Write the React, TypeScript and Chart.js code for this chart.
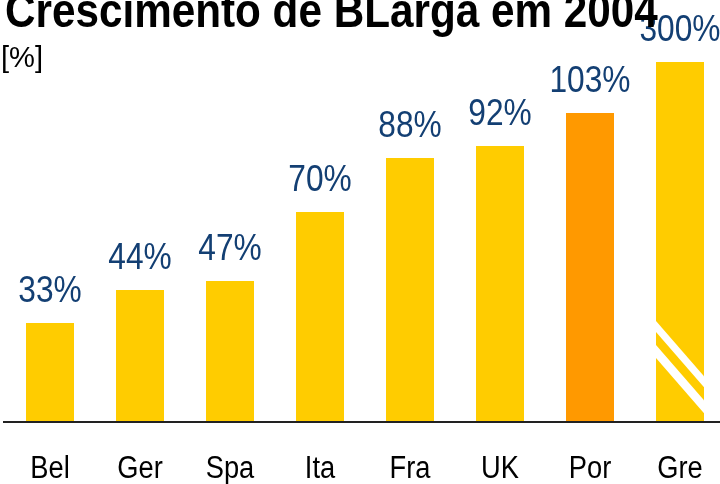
import React, { useEffect, useRef } from "react";
import { Chart, registerables } from "chart.js";

Chart.register(...registerables);

const titleText = "Crescimento de BLarga em 2004";
const unitLabel = "[%]";
const countries = ["Bel", "Ger", "Spa", "Ita", "Fra", "UK", "Por", "Gre"];
const growth = [33, 44, 47, 70, 88, 92, 103, 300];
const valueLabels = ["33%", "44%", "47%", "70%", "88%", "92%", "103%", "300%"];
const axisCap = 120; // broken axis: bars above this are cut
const highlightCountry = "Por";
const brokenCountry = "Gre";

const YELLOW = "#FFCC00";
const ORANGE = "#FF9900";
const NAVY = "#133F73";
const SQUEEZE = 0.88;
const FONT = '"Liberation Sans", Arial, Helvetica, sans-serif';

function squeezedText(ctx: CanvasRenderingContext2D, text: string, x: number, y: number, font: string, color: string, align: CanvasTextAlign, sx: number) {
  ctx.save();
  ctx.font = font;
  ctx.fillStyle = color;
  ctx.textAlign = align;
  ctx.textBaseline = "alphabetic";
  ctx.translate(x, y);
  ctx.scale(sx, 1);
  ctx.fillText(text, 0, 0);
  ctx.restore();
}

const overlayPlugin = {
  id: "overlay",
  afterDatasetsDraw(chart: any) {
    const ctx: CanvasRenderingContext2D = chart.ctx;
    const meta = chart.getDatasetMeta(0);
    const area = chart.chartArea;
    const xScale = chart.scales.x;

    // break marks on the cut bar
    const bi = countries.indexOf(brokenCountry);
    const bar = meta.data[bi];
    if (bar) {
      const props = bar.getProps(["x", "y", "base", "width"], true);
      const L = props.x - props.width / 2;
      const R = props.x + props.width / 2;
      const B = props.base;
      const w = R - L;
      const slope = 1.15;
      ctx.save();
      ctx.beginPath();
      ctx.rect(L, props.y, w, B - props.y);
      ctx.clip();
      ctx.fillStyle = "#FFFFFF";
      const stripes = [
        { top: 101, t: 11 },
        { top: 77, t: 13 },
      ];
      stripes.forEach((s) => {
        const y0 = B - s.top;
        ctx.beginPath();
        ctx.moveTo(L - 1, y0 - slope);
        ctx.lineTo(R + 1, y0 + slope * (w + 1));
        ctx.lineTo(R + 1, y0 + slope * (w + 1) + s.t);
        ctx.lineTo(L - 1, y0 - slope + s.t);
        ctx.closePath();
        ctx.fill();
      });
      ctx.restore();
    }

    // axis line
    ctx.save();
    ctx.fillStyle = "#222222";
    ctx.fillRect(3, area.bottom - 1, chart.width, 2);
    ctx.restore();

    // value labels
    meta.data.forEach((el: any, i: number) => {
      const p = el.getProps(["x", "y"], true);
      squeezedText(ctx, valueLabels[i], p.x, p.y - 21, `36px ${FONT}`, NAVY, "center", SQUEEZE);
    });

    // category labels
    countries.forEach((c, i) => {
      const x = xScale.getPixelForValue(i);
      squeezedText(ctx, c, x, 478, `31px ${FONT}`, "#000000", "center", SQUEEZE);
    });

    // title and unit
    squeezedText(ctx, titleText, 5, 27, `bold 48px ${FONT}`, "#000000", "left", SQUEEZE);
    squeezedText(ctx, unitLabel, 1, 67, `30px ${FONT}`, "#000000", "left", 0.97);
  },
};

export default function App() {
  const ref = useRef<HTMLCanvasElement | null>(null);

  useEffect(() => {
    if (!ref.current) return;
    const plotted = growth.map((v) => Math.min(v, axisCap));
    const colors = countries.map((c) => (c === highlightCountry ? ORANGE : YELLOW));
    const chart = new Chart(ref.current, {
      type: "bar",
      data: {
        labels: countries,
        datasets: [
          {
            data: plotted,
            backgroundColor: colors,
            borderWidth: 0,
            categoryPercentage: 1,
            barPercentage: 48 / 90,
          },
        ],
      },
      options: {
        responsive: false,
        animation: false,
        devicePixelRatio: 1,
        layout: { padding: { left: 5, right: 0, top: 62, bottom: 62 } },
        plugins: {
          legend: { display: false },
          tooltip: { enabled: false },
          title: { display: false },
        },
        scales: {
          x: { display: false },
          y: { display: false, min: 0, max: axisCap },
        },
      },
      plugins: [overlayPlugin],
    });
    return () => chart.destroy();
  }, []);

  return (
    <div style={{ position: "fixed", left: 0, top: 0, width: 720, height: 484, overflow: "hidden", background: "#fff" }}>
      <canvas ref={ref} width={725} height={484} style={{ display: "block" }} />
    </div>
  );
}
